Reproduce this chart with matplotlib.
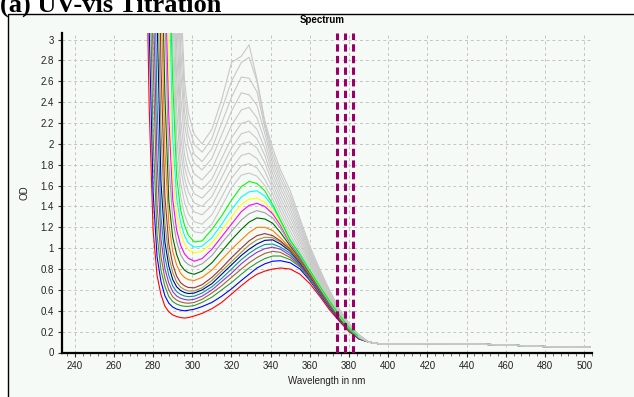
import matplotlib
matplotlib.use("Agg")
import matplotlib.pyplot as plt
from matplotlib.patches import Rectangle
from matplotlib.ticker import MultipleLocator

# ---------------- data ----------------
W = [276, 278, 280, 282, 284, 286, 288, 290, 292, 294, 296, 298, 301, 305, 310,
     315, 320, 325, 329, 333, 337, 341, 345, 350, 355, 360, 365, 370, 375, 380, 385]
TAIL_W = [390, 395, 400, 420, 440, 460, 480, 503]
TAIL_OD = [0.10, 0.085, 0.08, 0.085, 0.083, 0.072, 0.057, 0.05]

od_red = [4.5, 2.35, 1.17, 0.74, 0.555, 0.445, 0.39, 0.36, 0.345, 0.335, 0.33, 0.335, 0.35, 0.375, 0.42, 0.48, 0.56, 0.64, 0.70, 0.75, 0.78, 0.80, 0.81, 0.80, 0.75, 0.66, 0.54, 0.41, 0.30, 0.20, 0.13]
od_blue = [4.6, 3.1, 1.54, 0.92, 0.68, 0.545, 0.473, 0.436, 0.416, 0.406, 0.40, 0.405, 0.415, 0.44, 0.48, 0.54, 0.61, 0.69, 0.75, 0.81, 0.85, 0.875, 0.88, 0.86, 0.80, 0.69, 0.56, 0.43, 0.31, 0.21, 0.13]
od_green = [5.0, 3.92, 2.08, 1.13, 0.79, 0.635, 0.537, 0.488, 0.464, 0.45, 0.443, 0.442, 0.45, 0.48, 0.53, 0.60, 0.67, 0.75, 0.81, 0.86, 0.90, 0.925, 0.925, 0.89, 0.82, 0.70, 0.57, 0.44, 0.32, 0.21, 0.135]
od_sienna = [5.5, 4.8, 2.80, 1.42, 0.92, 0.715, 0.60, 0.534, 0.502, 0.485, 0.476, 0.472, 0.48, 0.51, 0.57, 0.64, 0.72, 0.80, 0.86, 0.91, 0.95, 0.97, 0.96, 0.91, 0.83, 0.71, 0.58, 0.45, 0.32, 0.215, 0.135]
od_purple = [6.0, 5.0, 3.49, 1.85, 1.09, 0.805, 0.667, 0.584, 0.542, 0.52, 0.509, 0.503, 0.51, 0.54, 0.60, 0.68, 0.76, 0.85, 0.91, 0.96, 0.995, 1.01, 0.99, 0.93, 0.84, 0.72, 0.585, 0.45, 0.325, 0.215, 0.135]
od_teal = [6.0, 5.5, 4.42, 2.39, 1.30, 0.915, 0.74, 0.638, 0.584, 0.557, 0.542, 0.535, 0.54, 0.57, 0.63, 0.71, 0.80, 0.89, 0.95, 1.00, 1.035, 1.04, 1.01, 0.95, 0.85, 0.73, 0.59, 0.455, 0.33, 0.22, 0.14]
od_navy = [6.5, 5.8, 4.8, 3.23, 1.64, 1.06, 0.83, 0.70, 0.63, 0.595, 0.575, 0.565, 0.57, 0.60, 0.66, 0.75, 0.84, 0.93, 0.99, 1.04, 1.075, 1.08, 1.04, 0.97, 0.86, 0.735, 0.595, 0.46, 0.33, 0.22, 0.14]
od_olive = [6.5, 6.0, 5.2, 3.85, 2.15, 1.24, 0.92, 0.768, 0.674, 0.627, 0.603, 0.59, 0.59, 0.62, 0.69, 0.78, 0.87, 0.96, 1.03, 1.08, 1.105, 1.10, 1.06, 0.98, 0.87, 0.74, 0.60, 0.46, 0.335, 0.22, 0.14]
od_brown = [7.0, 6.5, 6.0, 5.16, 2.76, 1.50, 1.04, 0.845, 0.732, 0.67, 0.64, 0.623, 0.62, 0.65, 0.72, 0.81, 0.91, 1.00, 1.07, 1.12, 1.14, 1.12, 1.07, 0.99, 0.88, 0.745, 0.605, 0.465, 0.335, 0.225, 0.14]
od_orange = [7.0, 6.5, 6.0, 5.0, 3.45, 1.95, 1.24, 0.97, 0.84, 0.76, 0.72, 0.698, 0.69, 0.72, 0.79, 0.89, 0.99, 1.08, 1.15, 1.20, 1.20, 1.17, 1.10, 1.00, 0.89, 0.75, 0.61, 0.47, 0.34, 0.225, 0.14]
od_dkgreen = [7.0, 6.5, 6.0, 5.5, 4.21, 2.48, 1.46, 1.105, 0.94, 0.84, 0.79, 0.765, 0.75, 0.78, 0.86, 0.97, 1.08, 1.18, 1.25, 1.29, 1.28, 1.24, 1.15, 1.02, 0.90, 0.76, 0.615, 0.475, 0.345, 0.23, 0.14]
od_gray = [7.0, 6.5, 6.0, 5.8, 4.7, 3.26, 1.81, 1.28, 1.065, 0.94, 0.876, 0.843, 0.82, 0.85, 0.93, 1.05, 1.16, 1.27, 1.33, 1.36, 1.34, 1.29, 1.19, 1.04, 0.91, 0.77, 0.62, 0.48, 0.345, 0.23, 0.145]
od_magenta = [7.0, 6.5, 6.0, 5.5, 5.0, 3.73, 2.27, 1.47, 1.175, 1.03, 0.947, 0.903, 0.875, 0.90, 0.99, 1.11, 1.23, 1.35, 1.41, 1.43, 1.40, 1.33, 1.22, 1.05, 0.92, 0.775, 0.625, 0.48, 0.35, 0.235, 0.145]
od_yellow = [7.0, 6.5, 6.0, 5.8, 5.5, 4.17, 2.87, 1.73, 1.325, 1.15, 1.04, 0.985, 0.955, 0.97, 1.05, 1.17, 1.30, 1.42, 1.47, 1.48, 1.44, 1.36, 1.24, 1.06, 0.93, 0.78, 0.63, 0.485, 0.35, 0.235, 0.145]
od_cyan = [7.0, 6.5, 6.0, 6.0, 6.0, 5.0, 3.65, 2.06, 1.48, 1.25, 1.12, 1.05, 1.01, 1.02, 1.10, 1.23, 1.37, 1.49, 1.54, 1.55, 1.50, 1.40, 1.26, 1.07, 0.93, 0.785, 0.635, 0.49, 0.355, 0.235, 0.145]
od_lime = [7.0, 6.5, 6.0, 6.0, 6.0, 5.5, 3.93, 2.60, 1.69, 1.37, 1.22, 1.124, 1.06, 1.07, 1.18, 1.31, 1.46, 1.59, 1.64, 1.62, 1.55, 1.42, 1.27, 1.08, 0.94, 0.79, 0.64, 0.495, 0.36, 0.24, 0.15]

od_g01 = [7, 7, 7, 7, 7, 6, 4.3, 2.93, 1.88, 1.50, 1.325, 1.225, 1.157, 1.145, 1.23, 1.40, 1.58, 1.70, 1.72, 1.69, 1.60, 1.47, 1.31, 1.12, 0.96, 0.82, 0.66, 0.51, 0.37, 0.245, 0.15]
od_g02 = [7, 7, 7, 7, 7, 7, 6, 3.31, 2.08, 1.63, 1.44, 1.33, 1.253, 1.23, 1.32, 1.49, 1.67, 1.79, 1.81, 1.77, 1.66, 1.52, 1.354, 1.163, 0.99, 0.84, 0.674, 0.519, 0.375, 0.249, 0.152]
od_g03 = [7, 7, 7, 7, 7, 7, 6, 3.85, 2.34, 1.78, 1.565, 1.435, 1.348, 1.32, 1.41, 1.587, 1.764, 1.889, 1.91, 1.86, 1.74, 1.568, 1.398, 1.206, 1.024, 0.86, 0.688, 0.528, 0.38, 0.252, 0.154]
od_g04 = [7, 7, 7, 7, 7, 7, 6, 3.82, 2.65, 1.94, 1.67, 1.54, 1.435, 1.40, 1.495, 1.68, 1.866, 1.998, 2.02, 1.96, 1.82, 1.617, 1.442, 1.249, 1.056, 0.88, 0.702, 0.537, 0.385, 0.256, 0.156]
od_g05 = [7, 7, 7, 7, 7, 7, 6.5, 4.71, 2.91, 2.09, 1.78, 1.64, 1.523, 1.48, 1.579, 1.77, 1.96, 2.097, 2.12, 2.05, 1.89, 1.666, 1.486, 1.292, 1.088, 0.90, 0.716, 0.546, 0.39, 0.259, 0.158]
od_g06 = [7, 7, 7, 7, 7, 7, 7, 6, 3.24, 2.25, 1.90, 1.74, 1.61, 1.565, 1.662, 1.86, 2.057, 2.196, 2.22, 2.14, 1.96, 1.715, 1.53, 1.335, 1.12, 0.92, 0.73, 0.555, 0.395, 0.2625, 0.16]
od_g07 = [7, 7, 7, 7, 7, 7, 7, 6, 3.65, 2.47, 2.04, 1.855, 1.712, 1.655, 1.76, 1.968, 2.177, 2.325, 2.35, 2.25, 2.03, 1.764, 1.574, 1.378, 1.152, 0.94, 0.744, 0.564, 0.40, 0.266, 0.162]
od_g08 = [7, 7, 7, 7, 7, 7, 7, 6, 4.17, 2.72, 2.19, 1.975, 1.814, 1.75, 1.86, 2.087, 2.313, 2.49, 2.47, 2.37, 2.10, 1.813, 1.618, 1.421, 1.184, 0.96, 0.758, 0.573, 0.405, 0.27, 0.164]
od_g09 = [7, 7, 7, 7, 7, 7, 7, 6, 4.14, 2.94, 2.32, 2.08, 1.90, 1.83, 1.953, 2.20, 2.446, 2.64, 2.63, 2.50, 2.16, 1.862, 1.662, 1.464, 1.216, 0.98, 0.772, 0.582, 0.41, 0.273, 0.166]
od_g10 = [7, 7, 7, 7, 7, 7, 7, 7, 6, 3.21, 2.47, 2.18, 1.995, 1.92, 2.05, 2.327, 2.60, 2.78, 2.83, 2.60, 2.19, 1.911, 1.706, 1.507, 1.248, 1.00, 0.786, 0.591, 0.415, 0.277, 0.168]
od_g11 = [7, 7, 7, 7, 7, 7, 7, 7, 6, 3.48, 2.61, 2.295, 2.09, 2.0, 2.14, 2.425, 2.78, 2.84, 2.95, 2.62, 2.22, 1.96, 1.75, 1.55, 1.28, 1.02, 0.80, 0.60, 0.42, 0.28, 0.17]

COLORED = [od_red, od_blue, od_green, od_sienna, od_purple, od_teal, od_navy, od_olive,
           od_brown, od_orange, od_dkgreen, od_gray, od_magenta, od_yellow, od_cyan, od_lime]
COLORED_COLORS = ['#ff0000', '#0000ff', '#339933', '#996633', '#9933cc', '#009999', '#000099',
                  '#999933', '#993333', '#ff8000', '#006600', '#a0a0a0', '#ff00ff', '#ffff00',
                  '#00ffff', '#00ff00']
GRAYS = [od_g01, od_g02, od_g03, od_g04, od_g05, od_g06, od_g07, od_g08, od_g09, od_g10, od_g11]

MARKER_WL = [374.0, 378.1, 382.1]
X_TICKS = [240, 260, 280, 300, 320, 340, 360, 380, 400, 420, 440, 460, 480, 500]
Y_TICKS = [0, 0.2, 0.4, 0.6, 0.8, 1.0, 1.2, 1.4, 1.6, 1.8, 2.0, 2.2, 2.4, 2.6, 2.8, 3.0]
Y_TICK_LABELS = ['0', '0.2', '0.4', '0.6', '0.8', '1', '1.2', '1.4', '1.6', '1.8', '2',
                 '2.2', '2.4', '2.6', '2.8', '3']

# ---------------- figure ----------------
FW, FH = 634, 397
fig = plt.figure(figsize=(FW / 100, FH / 100), dpi=100, facecolor='white')

panel = Rectangle((8 / FW, -0.01), 1.0, 1 - 14 / FH + 0.01, transform=fig.transFigure,
                  facecolor='#f6faf7', edgecolor='black', linewidth=1.0, zorder=-5)
fig.add_artist(panel)

fig.text(0.0, 1 - 12 / FH, '(a) UV-vis Titration', ha='left', va='baseline',
         fontsize=19, fontweight='bold', family='Liberation Serif')
fig.text(322 / FW, 1 - 20 / FH, 'Spectrum', ha='center', va='center',
         fontsize=7, fontweight='bold', family='Liberation Sans')

ax = fig.add_axes([62 / FW, 1 - 352.5 / FH, (592 - 62) / FW, (352.5 - 33.3) / FH])
ax.set_zorder(2)
ax.set_facecolor('none')

full_w = W + TAIL_W
LW = 0.8
for od in GRAYS:
    ax.plot(W + TAIL_W[:1], od + TAIL_OD[:1], color='#c8c8c8', lw=LW, zorder=2)
for od, c in zip(COLORED, COLORED_COLORS):
    ax.plot(full_w, od + TAIL_OD, color=c, lw=LW, zorder=3)
for od in GRAYS:
    ax.plot([W[-1]] + TAIL_W, [od[-1]] + TAIL_OD, color='#c8c8c8', lw=LW, zorder=4)

for x in MARKER_WL:
    ax.axvline(x, color='#990066', lw=2.2, dashes=(2.4, 1.4), zorder=5)

ax.set_xlim(233.5, 504)
ax.set_ylim(0, 3.06)
ax.set_xticks(X_TICKS)
ax.set_xticklabels([str(t) for t in X_TICKS])
ax.set_yticks(Y_TICKS)
ax.set_yticklabels(Y_TICK_LABELS)
ax.xaxis.set_minor_locator(MultipleLocator(4))
ax.tick_params(axis='both', which='major', labelsize=7, length=3, width=0.8,
               colors='#333333', labelcolor='#222222', pad=3)
ax.tick_params(axis='x', which='minor', length=2, width=0.6, colors='#555555')
for lab in ax.get_xticklabels() + ax.get_yticklabels():
    lab.set_family('Liberation Sans')

ax.grid(True, which='major', color='#c4c4c4', linestyle=(0, (3, 3)), linewidth=0.7, zorder=1)
for s in ['top', 'right']:
    ax.spines[s].set_visible(False)
for s in ['left', 'bottom']:
    ax.spines[s].set_color('black')
    ax.spines[s].set_linewidth(1.6)

ax.set_xlabel('Wavelength in nm', fontsize=7, family='Liberation Sans', color='#222222', labelpad=4)
ax.set_ylabel('OD', fontsize=7, family='Liberation Sans', color='#222222', labelpad=8)

fig.savefig('out.png', dpi=100, facecolor='white')
